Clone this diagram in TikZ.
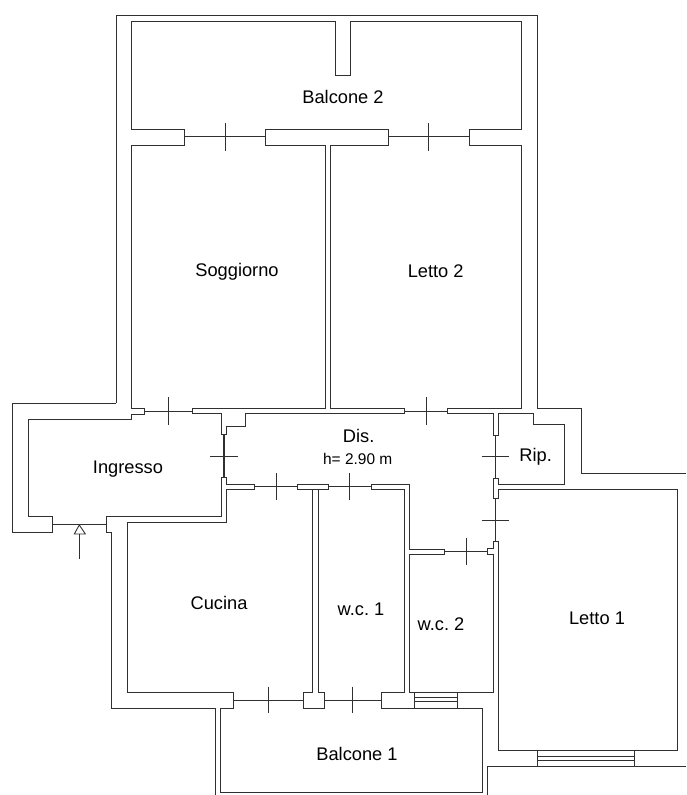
\documentclass[tikz,border=0pt]{standalone}
\usepackage{fontspec}
\setmainfont{Liberation Sans}
\definecolor{wallc}{HTML}{303030}
\tikzset{
  wall/.style={draw=wallc,line width=0.72pt,line join=miter,line cap=butt},
  sash/.style={draw=wallc,line width=0.68pt},
  room/.style={font=\fontsize{13.7pt}{15pt}\selectfont\frenchspacing,text=black,inner sep=0pt},
  note/.style={font=\fontsize{11.6pt}{14pt}\selectfont,text=black,inner sep=0pt}
}
\begin{document}
\begin{tikzpicture}[x=0.75pt,y=-0.75pt]
\useasboundingbox (0,0) rectangle (686,795);
% outer shell
\draw[wall] (116,403) -- (116,15.7) -- (537.5,15.7) -- (537.5,408.7) -- (581,408.7) -- (581,473.3) -- (686,473.3);
\draw[wall] (116,403) -- (12.3,403) -- (12.3,532.7) -- (52.7,532.7) -- (52.7,516) -- (28.3,516) -- (28.3,419.3) -- (131.7,419.3) -- (131.7,414) -- (144.7,414) -- (144.7,408.7) -- (131.7,408.7) -- (131.7,145.3) -- (184.3,145.3) -- (184.3,129) -- (131.5,129) -- (131.5,21) -- (335.7,21) -- (335.7,75) -- (350.7,75) -- (350.7,21) -- (521,21) -- (521,129) -- (469,129) -- (469,145.3) -- (521,145.3) -- (521,408.7) -- (447.3,408.7) -- (447.3,413.7) -- (493,413.7) -- (493,435) -- (498.3,435) -- (498.3,413.7) -- (533.7,413.7) -- (533.7,424.3) -- (564.7,424.3) -- (564.7,484) -- (498.3,484) -- (498.3,478.3) -- (493,478.3) -- (493,498.7) -- (498.3,498.7) -- (498.3,489.3) -- (677.3,489.3) -- (677.3,750) -- (498.3,750) -- (498.3,541.7) -- (493,541.7) -- (493,548.3) -- (487.3,548.3) -- (487.3,554.3) -- (493,554.3) -- (493,692.3) -- (409.3,692.3) -- (409.3,554.3) -- (444.3,554.3) -- (444.3,549) -- (409.3,549) -- (409.3,484.3) -- (371.3,484.3) -- (371.3,489) -- (404.5,489) -- (404.5,692.3) -- (381,692.3) -- (381,708.3) -- (482.3,708.3) -- (482.3,792) -- (220,792) -- (220,708.3) -- (233.3,708.3) -- (233.3,692.3) -- (127.7,692.3) -- (127.7,522) -- (226.7,522) -- (226.7,489) -- (254.3,489) -- (254.3,484.3) -- (226.7,484.3) -- (226.7,477.7) -- (221.3,477.7) -- (221.3,516) -- (106.7,516) -- (106.7,532.7) -- (111.7,532.7) -- (111.7,708.3) -- (215.3,708.3) -- (215.3,795);
% walls between rooms
\draw[wall] (192.7,408.7) -- (325.3,408.7) -- (325.3,145.3) -- (265.3,145.3) -- (265.3,129) -- (388.3,129) -- (388.3,145.3) -- (330,145.3) -- (330,408.7) -- (404.5,408.7) -- (404.5,413.7) -- (245.3,413.7) -- (245.3,426) -- (226.7,426) -- (226.7,434.3) -- (221.3,434.3) -- (221.3,413.7) -- (192.7,413.7) -- cycle;
\draw[wall] (297.3,484.3) rectangle (328.7,489);
\draw[wall] (312.7,489) -- (312.7,692.3) -- (303.3,692.3) -- (303.3,708.3) -- (324.7,708.3) -- (324.7,692.3) -- (318,692.3) -- (318,489);
% lower right frame
\draw[wall] (487.3,795) -- (487.3,766.7) -- (686,766.7);
% doors: sash lines
\draw[sash] (144.7,411.3) -- (192.7,411.3);
\draw[sash] (168.7,397.3) -- (168.7,424.7);
\draw[sash] (184.3,136.7) -- (265.3,136.7);
\draw[sash] (225,123.3) -- (225,150.7);
\draw[sash] (388.3,136.7) -- (469,136.7);
\draw[sash] (428.3,123.3) -- (428.3,150.7);
\draw[sash] (404.5,411) -- (447.3,411);
\draw[sash] (426,397.3) -- (426,424.7);
\draw[sash,line width=0.95pt] (224,434.3) -- (224,477.7);
\draw[sash] (210.3,456) -- (238,456);
\draw[sash] (254.3,486.7) -- (297.3,486.7);
\draw[sash] (276,473.3) -- (276,500.3);
\draw[sash] (328.7,486.7) -- (371.3,486.7);
\draw[sash] (349.7,473.3) -- (349.7,500.3);
\draw[sash] (495.3,435) -- (495.3,478.3);
\draw[sash] (481.7,456.3) -- (509.3,456.3);
\draw[sash] (495.3,498.7) -- (495.3,541.7);
\draw[sash] (481.7,520.7) -- (509.3,520.7);
\draw[sash] (444.3,551.7) -- (487.3,551.7);
\draw[sash] (466,538.3) -- (466,565.3);
\draw[sash] (233.3,700) -- (303.3,700);
\draw[sash] (268.3,686.7) -- (268.3,713.3);
\draw[sash] (324.7,700) -- (381,700);
\draw[sash] (352.7,686.7) -- (352.7,713.3);
% windows
\draw[sash] (414.3,692.3) -- (414.3,708.3);
\draw[sash] (457.7,692.3) -- (457.7,708.3);
\draw[sash] (414.3,697.3) -- (457.7,697.3);
\draw[sash] (414.3,701.3) -- (457.7,701.3);
\draw[sash] (537,750) -- (537,766.7);
\draw[sash] (634.3,750) -- (634.3,766.7);
\draw[sash] (537,756) -- (634.3,756);
\draw[sash] (537,760.3) -- (634.3,760.3);
% entrance
\draw[sash] (52.7,524.7) -- (106.7,524.7);
\draw[sash] (79.3,525) -- (85.3,534) -- (74.3,534) -- cycle;
\draw[sash] (79.3,534) -- (79.3,558.7);
% labels
\node[room] (balc2) at (343,97) {Balcone 2};
\node[room] (sogg) at (237,272) {Soggiorno};
\node[room] (let2) at (435.7,271) {Letto 2};
\node[room] (ingr) at (128,469) {Ingresso};
\node[room] (dis) at (358.7,436) {Dis.};
\node[note] (hgt) at (357.7,459) {h= 2.90 m};
\node[room] (rip) at (535.7,456.5) {Rip.};
\node[room] (cuc) at (219,603) {Cucina};
\node[room] (wc1) at (361,609) {w.c. 1};
\node[room] (wc2) at (441,624) {w.c. 2};
\node[room] (let1) at (597,618) {Letto 1};
\node[room] (balc1) at (357,754) {Balcone 1};
\end{tikzpicture}
\end{document}
